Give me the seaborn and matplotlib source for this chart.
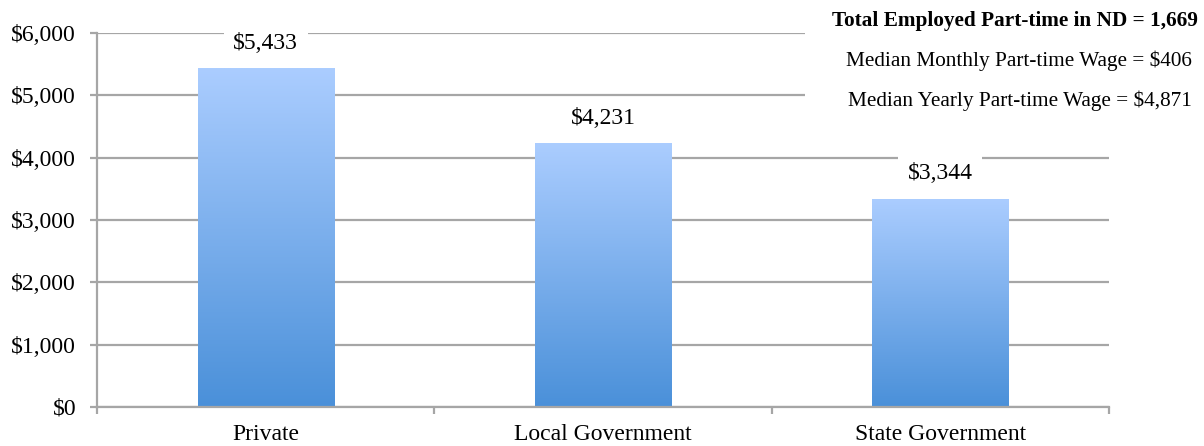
import numpy as np
import pandas as pd
import matplotlib
matplotlib.use("Agg")
import matplotlib.pyplot as plt
from matplotlib.colors import LinearSegmentedColormap
from matplotlib.patches import Rectangle
from matplotlib.ticker import FixedLocator, FuncFormatter
import seaborn as sns

categories = ["Private", "Local Government", "State Government"]
values = [5433, 4231, 3344]
value_labels = ["$5,433", "$4,231", "$3,344"]
yticks = [0, 1000, 2000, 3000, 4000, 5000, 6000]
info_lines = ["Total Employed Part-time in ND = 1,669",
              "Median Monthly Part-time Wage = $406",
              "Median Yearly Part-time Wage = $4,871"]

sns.set_style("white")
plt.rcParams['font.family'] = ['Liberation Serif', 'DejaVu Serif']
plt.rcParams['text.color'] = 'black'

fig = plt.figure(figsize=(12.04, 4.46), dpi=100)
ax = fig.add_axes([97/1204, 1 - 407/446, (1109 - 97)/1204, (407 - 33)/446])

df = pd.DataFrame({"cat": categories, "val": values})
sns.barplot(data=df, x="cat", y="val", ax=ax, width=0.404, color="#4a90d9",
            edgecolor="none", zorder=2)

grid_c = "#a6a6a6"
ax.set_ylim(0, 6000)
ax.set_xlim(-0.5, 2.5)
ax.set_yticks(yticks)
ax.yaxis.set_major_formatter(FuncFormatter(lambda v, p: f"${int(v):,}"))
ax.grid(axis="y", color=grid_c, linewidth=1.6, zorder=0)
ax.set_axisbelow(True)
for s in ["top", "right"]:
    ax.spines[s].set_visible(False)
for s in ["left", "bottom"]:
    ax.spines[s].set_color(grid_c)
    ax.spines[s].set_linewidth(1.6)
ax.tick_params(axis="y", length=5, width=1.6, color=grid_c, pad=10, labelsize=17,
               left=True, labelcolor="black")
ax.tick_params(axis="x", which="major", length=0, pad=12, labelsize=17, labelcolor="black")
ax.xaxis.set_minor_locator(FixedLocator([-0.5, 0.5, 1.5, 2.5]))
ax.tick_params(axis="x", which="minor", length=5, width=1.6, color=grid_c, bottom=True)
ax.set_xlabel("")
ax.set_ylabel("")

# gradient fill
cmap = LinearSegmentedColormap.from_list("g", ["#4a90d9", "#abcdff"])
grad = np.linspace(0, 1, 256).reshape(-1, 1)
for p in ax.patches:
    x0, y0 = p.get_x(), p.get_y()
    w, h = p.get_width(), p.get_height()
    im = ax.imshow(grad, cmap=cmap, origin="lower", aspect="auto",
                   extent=[x0, x0 + w, y0, y0 + h], zorder=2)
    im.set_clip_path(p)
    p.set_facecolor("none")
ax.set_xlim(-0.5, 2.5)
ax.set_ylim(0, 6000)

for i, (v, lab) in enumerate(zip(values, value_labels)):
    ax.annotate(lab, (i, v), xytext=(0, 18), textcoords="offset points",
                ha="center", va="center", fontsize=17, zorder=5, color="black",
                bbox=dict(boxstyle="square,pad=0.4", fc="white", ec="none"))

# info box
fig.patches.append(Rectangle((805/1204, 1 - 110/446), (1204 - 805)/1204, 110/446,
                             transform=fig.transFigure, facecolor="white",
                             edgecolor="none", zorder=3, figure=fig))
fig.text(1198/1204, 1 - 21/446, info_lines[0], ha="right", va="center",
         fontsize=15.3, fontweight="bold", zorder=4, color="black")
fig.text(1192/1204, 1 - 61/446, info_lines[1], ha="right", va="center",
         fontsize=15.3, zorder=4, color="black")
fig.text(1192/1204, 1 - 101/446, info_lines[2], ha="right", va="center",
         fontsize=15.3, zorder=4, color="black")

fig.savefig("out.png", dpi=100)
